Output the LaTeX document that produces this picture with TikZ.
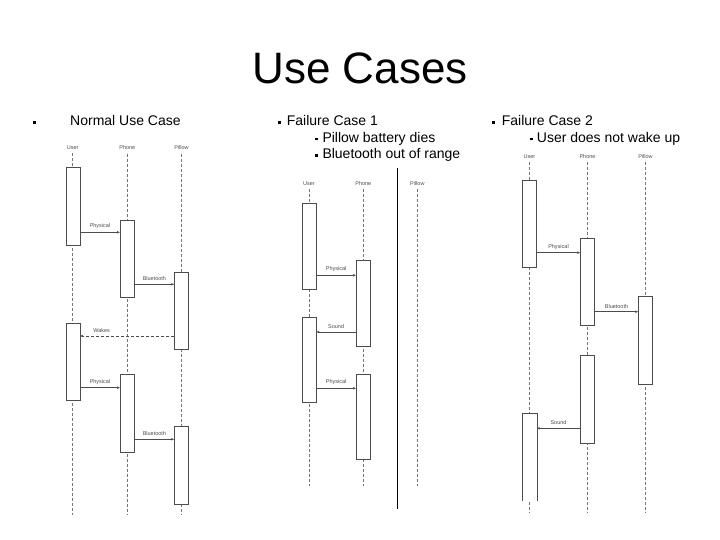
\documentclass[tikz,border=0pt]{standalone}
\usepackage{fontspec}
\setmainfont{Liberation Sans}
\usetikzlibrary{arrows.meta}
\newcommand{\sqbul}{\rule[2pt]{2.8pt}{2.8pt}}

\begin{document}
\begin{tikzpicture}
[
  x=1pt, y=-1pt,
  act/.style={draw=black!70,fill=white,minimum width=14pt,inner sep=0pt},
  life/.style={draw=black!55,dash pattern=on 3pt off 2pt,line width=0.5pt},
  lbl/.style={font=\fontsize{5.5}{6}\selectfont,text=black!70},
  mlbl/.style={lbl,inner sep=1pt,above=2pt},
  msg/.style={draw=black!70,line width=0.5pt,-{Latex[length=3pt,width=2.6pt]}},
  reply/.style={msg,dash pattern=on 3pt off 2pt},
  txt/.style={font=\fontsize{14}{16}\selectfont,anchor=base west,inner sep=0pt}
]
\useasboundingbox (0,0) rectangle (720,540);

% title and bullets
\node[font=\fontsize{44}{50}\selectfont] (title) at (360,68) {Use Cases};
\node[txt] (normal) at (33,126) {\sqbul\hspace{34.2pt}Normal Use Case};
\node[txt] (fail1) at (277.5,126) {\sqbul\hspace{6.4pt}Failure Case 1};
\node[txt] (fail1a) at (315,142.5) {\sqbul\hspace{4.5pt}Pillow battery dies};
\node[txt] (fail1b) at (315,159) {\sqbul\hspace{4.5pt}Bluetooth out of range};
\node[txt] (fail2) at (492,126) {\sqbul\hspace{6.9pt}Failure Case 2};
\node[txt] (fail2a) at (530,142.5) {\sqbul\hspace{3.9pt}User does not wake up};


% normal use case
\node[lbl] (nUser) at (72.7,148) {User};
\node[lbl] (nPhone) at (127.3,148) {Phone};
\node[lbl] (nPillow) at (181.5,148) {Pillow};
\draw[life] (nUser.south) -- (nUser |- 0,515);
\draw[life] (nPhone.south) -- (nPhone |- 0,515);
\draw[life] (nPillow.south) -- (nPillow |- 0,515);

\node[act,minimum height=77.3pt] (nu1) at (72.7,206.35) {};
\node[act,minimum height=76.7pt] (np1) at (127.3,258.35) {};
\node[act,minimum height=77.6pt] (nw1) at (181.5,310.5) {};
\node[act,minimum height=76.7pt] (nu2) at (72.7,361.65) {};
\node[act,minimum height=78pt] (np2) at (127.3,413.3) {};
\node[act,minimum height=78pt] (nw2) at (181.5,465) {};

\draw[msg] (nu1.east |- 0,232.3) -- node[mlbl] {Physical} (np1.west |- 0,232.3);
\draw[msg] (np1.east |- 0,284.3) -- node[mlbl] {Bluetooth} (nw1.west |- 0,284.3);
\draw[reply] (nw1.west |- 0,336) -- node[mlbl,pos=0.77] {Wakes} (nu2.east |- 0,336);
\draw[msg] (nu2.east |- 0,387.7) -- node[mlbl] {Physical} (np2.west |- 0,387.7);
\draw[msg] (np2.east |- 0,439.3) -- node[mlbl] {Bluetooth} (nw2.west |- 0,439.3);


% failure case 1
\node[lbl] (fUser) at (309,183.3) {User};
\node[lbl] (fPhone) at (363.3,183.3) {Phone};
\node[lbl] (fPillow) at (417.3,183.3) {Pillow};
\draw[life] (fUser.south) -- (fUser |- 0,486);
\draw[life] (fPhone.south) -- (fPhone |- 0,486);
\draw[life] (fPillow.south) -- (fPillow |- 0,486);
\draw[line width=1.2pt] (397.3,168.3) -- (397.3,509.3);

\node[act,minimum height=85.3pt] (fu1) at (309,246.35) {};
\node[act,minimum height=86pt] (fp1) at (363.3,303) {};
\node[act,minimum height=85.3pt] (fu2) at (309,359.65) {};
\node[act,minimum height=85.3pt] (fp2) at (363.3,416.65) {};

\draw[msg] (fu1.east |- 0,275.3) -- node[mlbl] {Physical} (fp1.west |- 0,275.3);
\draw[msg] (fp1.west |- 0,332) -- node[mlbl] {Sound} (fu2.east |- 0,332);
\draw[msg] (fu2.east |- 0,388.3) -- node[mlbl] {Physical} (fp2.west |- 0,388.3);


% failure case 2
\node[lbl] (gUser) at (529.5,156.7) {User};
\node[lbl] (gPhone) at (587.5,156.7) {Phone};
\node[lbl] (gPillow) at (645.5,156.7) {Pillow};
\draw[life] (gUser.south) -- (gUser |- 0,513.3);
\draw[life] (gPhone.south) -- (gPhone |- 0,513.3);
\draw[life] (gPillow.south) -- (gPillow |- 0,513.3);

\node[act,minimum height=87pt] (gu1) at (529.5,223.5) {};
\node[act,minimum height=87pt] (gp1) at (587.5,281.8) {};
\node[act,minimum height=88pt] (gw1) at (645.5,340) {};
\node[act,minimum height=87.7pt] (gp2) at (587.5,398.85) {};
\node[act,draw=none,minimum height=87.4pt] (gu2) at (529.5,457) {};
\draw[black!70] (gu2.south west) -- (gu2.north west) -- (gu2.north east) -- (gu2.south east);

\draw[msg] (gu1.east |- 0,252.7) -- node[mlbl] {Physical} (gp1.west |- 0,252.7);
\draw[msg] (gp1.east |- 0,311.7) -- node[mlbl] {Bluetooth} (gw1.west |- 0,311.7);
\draw[msg] (gp2.west |- 0,428.3) -- node[mlbl] {Sound} (gu2.east |- 0,428.3);

\end{tikzpicture}
\end{document}
